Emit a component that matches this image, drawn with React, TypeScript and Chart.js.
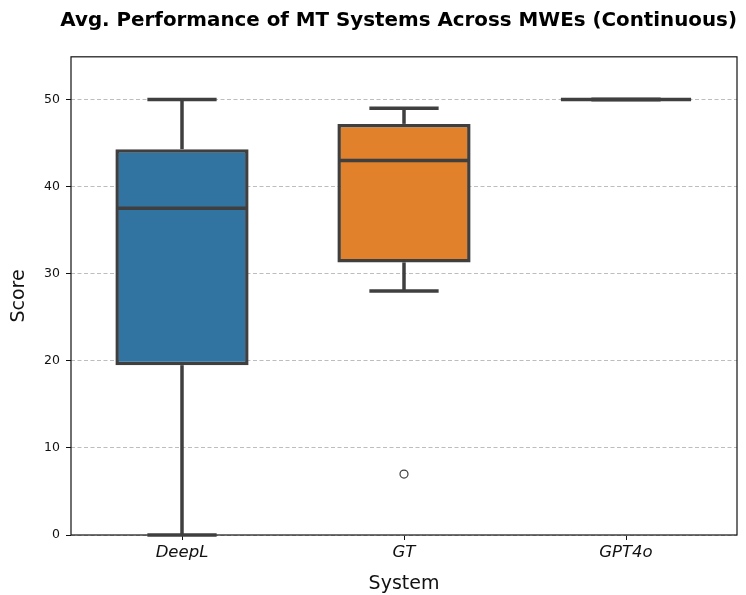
import React, { useEffect, useRef } from 'react';
import { Chart, registerables } from 'chart.js';

Chart.register(...registerables);

const systems = ['DeepL', 'GT', 'GPT4o'];
const whiskerLow = [0, 28, 50];
const q1 = [19.5, 31.3, 50];
const median = [37.5, 43, 50];
const q3 = [44.3, 47.2, 50];
const whiskerHigh = [50, 49, 50];
const outliers = [null, 7, null];
const yTicks = [0, 10, 20, 30, 40, 50];
const boxColors = ['#3274a1', '#e1812c', '#3a923a'];
const lineColor = '#3f3f3f';
const FONT = "'DejaVu Sans', sans-serif";

const framePlugin = {
  id: 'frame',
  beforeDatasetsDraw(chart: any) {
    const { ctx, chartArea } = chart;
    ctx.save();
    ctx.strokeStyle = '#111';
    ctx.lineWidth = 1.2;
    ctx.strokeRect(chartArea.left, chartArea.top, chartArea.right - chartArea.left, chartArea.bottom - chartArea.top);
    ctx.restore();
  },
};

const boxPlugin = {
  id: 'boxWhiskers',
  afterDatasetsDraw(chart: any) {
    const meta = chart.getDatasetMeta(0);
    const xs = chart.scales.x;
    const ys = chart.scales.y;
    const ctx = chart.ctx;
    const line = (x1: number, y1: number, x2: number, y2: number) => {
      ctx.beginPath();
      ctx.moveTo(x1, y1);
      ctx.lineTo(x2, y2);
      ctx.stroke();
    };
    ctx.save();
    ctx.strokeStyle = lineColor;
    ctx.lineWidth = 3.5;
    ctx.lineCap = 'butt';
    systems.forEach((_, i) => {
      const bar = meta.data[i];
      const w = bar.getProps(['width'], true).width;
      const cx = xs.getPixelForValue(i);
      const p = (v: number) => ys.getPixelForValue(v);
      line(cx, p(q1[i]), cx, p(whiskerLow[i]));
      line(cx, p(q3[i]), cx, p(whiskerHigh[i]));
      const cw = w * 0.26;
      line(cx - cw, p(whiskerLow[i]), cx + cw, p(whiskerLow[i]));
      line(cx - cw, p(whiskerHigh[i]), cx + cw, p(whiskerHigh[i]));
      line(cx - w / 2 + 1.5, p(median[i]), cx + w / 2 - 1.5, p(median[i]));
    });
    ctx.restore();
  },
};

export default function App() {
  const ref = useRef<HTMLCanvasElement | null>(null);
  useEffect(() => {
    if (!ref.current) return;
    const chart = new Chart(ref.current, {
      type: 'bar',
      data: {
        labels: systems,
        datasets: [
          {
            type: 'bar',
            data: systems.map((_, i) => [q1[i], q3[i]]) as any,
            backgroundColor: boxColors,
            borderColor: lineColor,
            borderWidth: 3.5,
            borderSkipped: false,
            barPercentage: 0.6,
            categoryPercentage: 1,
          },
          {
            type: 'line',
            data: outliers as any,
            showLine: false,
            pointRadius: 4,
            pointBorderWidth: 1.2,
            pointBorderColor: lineColor,
            pointBackgroundColor: 'rgba(0,0,0,0)',
          } as any,
        ],
      },
      options: {
        responsive: false,
        animation: false,
        layout: { padding: { left: 0, right: 9, top: 0, bottom: 0 } },
        plugins: {
          legend: { display: false },
          tooltip: { enabled: false },
          title: {
            display: true,
            text: 'Avg. Performance of MT Systems Across MWEs (Continuous)',
            fullSize: true,
            align: 'end',
            color: '#000',
            font: { family: FONT, size: 19.85, weight: 'bold' },
            padding: { top: 9, bottom: 24 },
          },
        },
        scales: {
          x: {
            offset: true,
            afterFit: (s: any) => { s.height = 60; },
            grid: { drawOnChartArea: false, offset: false, tickLength: 5, tickColor: '#111', tickWidth: 1 },
            border: { display: false },
            ticks: { color: '#111', padding: 3, font: { family: FONT, size: 16.5, style: 'italic' } },
            title: { display: true, text: 'System', color: '#111', font: { family: FONT, size: 19 }, padding: { top: 0, bottom: 0 } },
          },
          y: {
            min: 0,
            max: 54.9,
            afterFit: (s: any) => { s.width = 71; },
            afterBuildTicks: (s: any) => { s.ticks = yTicks.map((v) => ({ value: v })); },
            grid: { color: '#bdbdbd', lineWidth: 1, tickLength: 5, tickColor: '#111', tickWidth: 1 },
            border: { display: false, dash: [4, 2.5] },
            ticks: { color: '#111', padding: 6, font: { family: FONT, size: 12.5 } },
            title: { display: true, text: 'Score', color: '#111', font: { family: FONT, size: 19 }, padding: { top: 8, bottom: 0 } },
          },
        },
      } as any,
      plugins: [framePlugin, boxPlugin],
    });
    return () => chart.destroy();
  }, []);
  return (
    <div style={{ position: 'absolute', left: 0, top: 0, width: 746, height: 595, background: '#fff' }}>
      <canvas ref={ref} width={746} height={595} />
    </div>
  );
}
